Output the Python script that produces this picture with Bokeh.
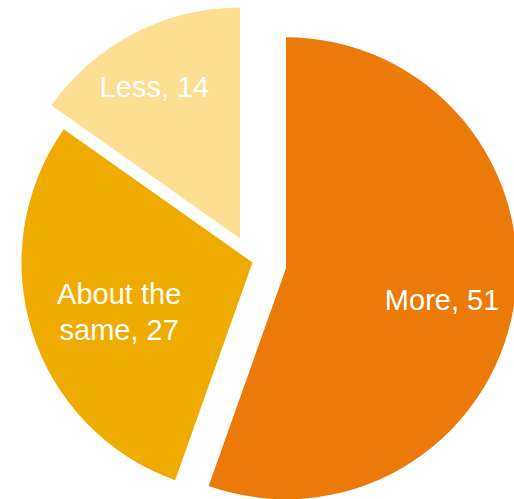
import numpy as np
from bokeh.plotting import figure
from bokeh.models import Range1d, ColumnDataSource
from bokeh.core.properties import value
from bokeh.embed import file_html
from bokeh.resources import INLINE

# ---- data ----
categories = ["More", "About the same", "Less"]
values = [51, 27, 14]
label_texts = ["More, 51", "About the\nsame, 27", "Less, 14"]
colors = ["#EC7A08", "#F0AB00", "#FDDE93"]

# ---- style / layout constants ----
explode = np.array([34.0, 0.0, 27.0])      # px offset along bisector
label_frac = np.array([0.69, 0.61, 0.74])  # label distance as fraction of radius
label_nudge_x = np.array([-1.0, 1.0, -7.0])
label_nudge_y = np.array([-5.0, -6.5, 0.0])
R = 231
CX, CY = 252, 237

vals = np.array(values, dtype=float)
fr = vals / vals.sum()
cum = np.concatenate([[0.0], np.cumsum(fr)]) * 2 * np.pi
a0, a1 = cum[:-1], cum[1:]           # clockwise from 12 o'clock
mid = (a0 + a1) / 2
start = np.pi / 2 - a1
end = np.pi / 2 - a0
xs = CX + explode * np.sin(mid)
ys = CY + explode * np.cos(mid)
lx = xs + label_frac * R * np.sin(mid) + label_nudge_x
ly = ys + label_frac * R * np.cos(mid) + label_nudge_y

src = ColumnDataSource(dict(x=xs, y=ys, start=start, end=end, color=colors,
                            cat=categories, lx=lx, ly=ly, label=label_texts))

p = figure(width=514, height=499, x_range=Range1d(0, 514), y_range=Range1d(0, 499),
           output_backend="svg", toolbar_location=None, min_border=0,
           x_axis_location=None, y_axis_location=None)
p.grid.visible = False
p.outline_line_color = None

p.wedge(x="x", y="y", radius=R, start_angle="start", end_angle="end",
        direction="anticlock", fill_color="color", line_color=None, source=src)
p.text(x="lx", y="ly", text="label", source=src, text_color="white",
       text_font=value("Liberation Sans"), text_font_size="29px",
       text_line_height=1.13,
       text_align="center", text_baseline="middle")

open("out.html", "w").write(file_html(p, INLINE))
